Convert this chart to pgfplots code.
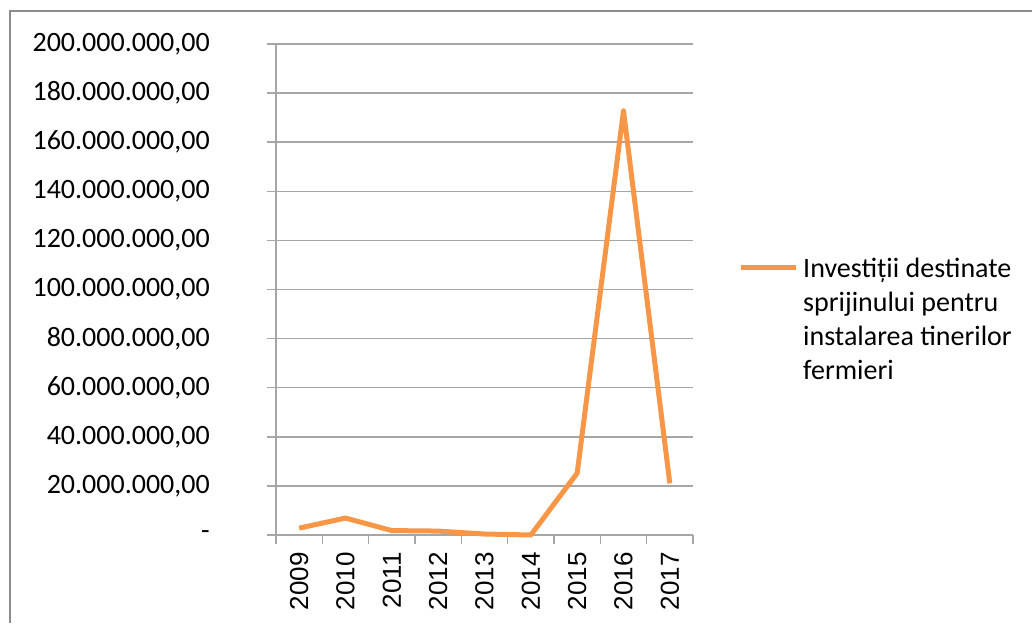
\documentclass[border=0pt]{standalone}
\usepackage{pgfplots}
\pgfplotsset{compat=1.18}
\usepackage{fontspec}
\setmainfont{Carlito}
\newfontfamily\arialf{Liberation Sans}
\definecolor{orng}{HTML}{F79646}
\definecolor{gridc}{HTML}{A6A6A6}
\definecolor{framec}{HTML}{8C8C8C}
\begin{document}
\begin{tikzpicture}
\useasboundingbox (-276pt,-88pt) rectangle (756pt,535pt);
\draw[framec, line width=2.2pt] (-266pt,-88pt) -- (-266pt,524pt) -- (756pt,524pt);
\begin{axis}[
  at={(0pt,0pt)}, anchor=south west,
  scale only axis, width=417pt, height=491pt,
  xmin=0.5, xmax=9.5, ymin=0, ymax=200,
  clip=false,
  axis x line*=bottom, axis y line*=left,
  axis line style={gridc, line width=1.5pt, -},
  ymajorgrids, grid style={gridc, line width=1.5pt},
  tick style={gridc, line width=1.5pt},
  tick align=outside, major tick length=9pt,
  xtick={0.5,1.5,2.5,3.5,4.5,5.5,6.5,7.5,8.5,9.5},
  x tick label as interval,
  xticklabels={2009,2010,2011,2012,2013,2014,2015,2016,2017},
  xticklabel style={yshift=-8pt, rotate=90, anchor=east, inner sep=0pt, font=\arialf\fontsize{26}{30}\selectfont},
  ytick={0,20,40,60,80,100,120,140,160,180,200},
  yticklabels={{-\hspace{18pt}},{20.000.000,00},{40.000.000,00},{60.000.000,00},{80.000.000,00},{100.000.000,00},{120.000.000,00},{140.000.000,00},{160.000.000,00},{180.000.000,00},{200.000.000,00}},
  yticklabel style={anchor=east, inner sep=0pt, xshift=-57pt, font=\fontsize{28}{34}\selectfont},
  legend style={draw=none, fill=none, inner sep=0pt, at={(1.108,0.574)}, anchor=north west,
    font=\fontsize{28}{34}\selectfont, nodes={inner sep=0pt}},
  legend cell align=left,
  legend image code/.code={\draw[#1] (0pt,-1pt) -- (55pt,-1pt); \path (60pt,-1pt);},
]
\addplot[orng, line width=5pt, line join=round] coordinates {
  (1,2.8) (2,6.9) (3,1.8) (4,1.6) (5,0.4) (6,0) (7,25.2) (8,172.8) (9,21.0)
};
\addlegendentry{\begin{tabular}[t]{@{}l@{}}Investiții destinate\\ sprijinului pentru\\ instalarea tinerilor\\ fermieri\end{tabular}}
\end{axis}
\end{tikzpicture}
\end{document}
